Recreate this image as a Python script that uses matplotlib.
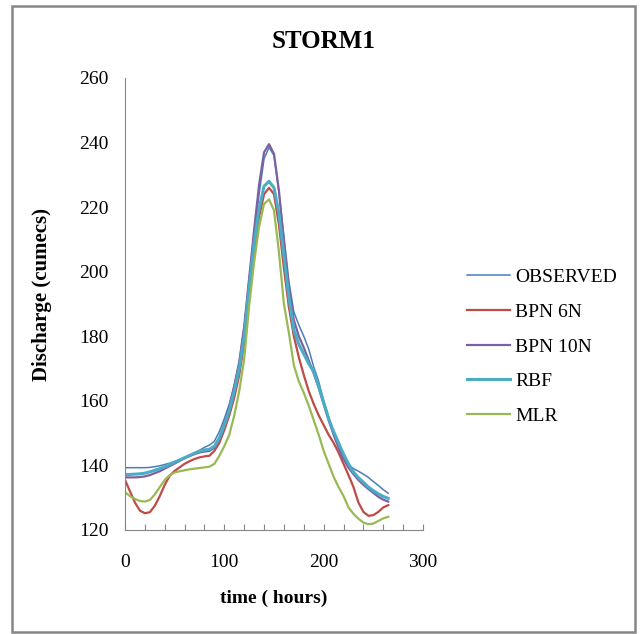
import numpy as np
import matplotlib.pyplot as plt
from matplotlib.patches import Rectangle

plt.rcParams['font.family'] = ['Liberation Serif', 'DejaVu Serif']

# time (hours), every 5 h
time_h = list(range(0, 266, 5))

observed = [139.3, 139.3, 139.3, 139.3, 139.3, 139.4, 139.6, 139.9, 140.3, 140.7,
            141.2, 141.7, 142.3, 143.0, 143.8, 144.7, 145.6, 146.3, 147.5, 150.5,
            154.5, 159.0, 165.0, 172.0, 183.0, 198.0, 211.0, 224.0, 235.0, 238.5,
            236.0, 224.5, 211.0, 197.0, 187.5, 183.5, 180.0, 176.0, 170.5, 166.0,
            160.0, 155.0, 150.0, 146.0, 142.8, 140.3, 139.0, 138.2, 137.3, 136.3,
            135.0, 133.8, 132.5, 131.4]
bpn6 = [135.5, 132.0, 128.5, 126.0, 125.2, 125.5, 127.5, 130.5, 134.0, 136.8,
        138.3, 139.4, 140.5, 141.3, 142.0, 142.5, 142.8, 143.0, 144.5, 147.0,
        151.0, 155.5, 161.0, 168.0, 178.0, 192.0, 206.0, 217.0, 224.0, 226.0,
        224.0, 214.5, 201.0, 189.0, 180.0, 173.5, 168.0, 163.0, 159.0, 155.5,
        152.5, 149.5, 147.0, 144.0, 140.5, 137.0, 133.3, 128.5, 125.6, 124.4,
        124.6, 125.6, 127.0, 127.7]
bpn10 = [136.3, 136.3, 136.3, 136.4, 136.6, 137.0, 137.6, 138.2, 139.0, 139.8,
         140.6, 141.4, 142.2, 142.9, 143.5, 144.0, 144.3, 144.5, 145.5, 148.5,
         153.0, 158.0, 164.5, 172.0, 183.0, 198.0, 213.0, 227.0, 237.0, 239.5,
         236.5, 225.0, 209.0, 195.0, 185.0, 180.0, 176.5, 172.5, 168.5, 164.0,
         159.0, 154.0, 149.5, 145.5, 142.0, 139.3, 137.3, 135.5, 134.0, 132.7,
         131.5, 130.3, 129.4, 128.8]
rbf = [137.2, 137.2, 137.3, 137.4, 137.6, 138.0, 138.5, 139.0, 139.6, 140.3,
       141.0, 141.7, 142.4, 143.1, 143.8, 144.4, 144.8, 145.0, 146.0, 148.5,
       152.5, 157.0, 163.0, 170.0, 180.0, 195.0, 209.0, 219.5, 226.5, 228.0,
       226.0, 218.0, 205.0, 192.0, 182.0, 177.5, 174.5, 171.5, 169.0, 164.5,
       159.5, 154.5, 150.5, 147.0, 143.5, 140.5, 138.0, 136.2, 134.8, 133.3,
       132.2, 131.2, 130.4, 129.8]
mlr = [131.7, 130.5, 129.6, 129.0, 128.8, 129.3, 131.0, 133.3, 135.5, 137.0,
       137.8, 138.2, 138.5, 138.8, 139.0, 139.2, 139.4, 139.6, 140.5, 143.0,
       146.0, 149.5, 155.5, 163.0, 173.0, 189.5, 203.0, 214.0, 221.0, 222.4,
       219.0, 206.0, 190.0, 181.0, 171.0, 166.0, 162.5, 158.5, 154.0, 149.5,
       144.5, 140.5, 136.5, 133.3, 130.5, 127.0, 125.0, 123.5, 122.3, 121.8,
       122.0, 122.8, 123.6, 124.1]

fig = plt.figure(figsize=(6.41, 6.34), dpi=100)
ax = fig.add_axes([125 / 641, 104 / 634, 298 / 641, 452 / 634])

ax.plot(time_h, observed, color='#4a7ebb', lw=1.1, label='OBSERVED')
ax.plot(time_h, bpn6, color='#be4b48', lw=1.6, label='BPN 6N')
ax.plot(time_h, bpn10, color='#7d60a0', lw=1.6, label='BPN 10N')
ax.plot(time_h, rbf, color='#4bacc6', lw=2.2, label='RBF')
ax.plot(time_h, mlr, color='#98b954', lw=1.6, label='MLR')

ax.set_xlim(0, 300)
ax.set_ylim(120, 260)
ax.set_xticks(range(0, 301, 20))
ax.set_xticklabels([str(v) if v % 100 == 0 else '' for v in range(0, 301, 20)])
ax.set_yticks(range(120, 261, 20))
ax.tick_params(axis='x', direction='in', length=4, color='#868686', pad=17, labelsize=14)
ax.tick_params(axis='y', length=0, pad=12, labelsize=14)
for s in ['top', 'right']:
    ax.spines[s].set_visible(False)
for s in ['left', 'bottom']:
    ax.spines[s].set_color('#868686')

ax.set_xlabel('time ( hours)', fontsize=14, fontweight='bold', labelpad=14)
ax.set_ylabel('Discharge (cumecs)', fontsize=15, fontweight='bold')
ax.yaxis.set_label_coords(-0.245, 0.52)
fig.text(0.504, 0.935, 'STORM1', ha='center', va='center', fontsize=18, fontweight='bold')

ax.legend(loc='upper left', bbox_to_anchor=(450 / 641, 1 - 251 / 634),
          bbox_transform=fig.transFigure, frameon=False, fontsize=14,
          handlelength=2.2, handletextpad=0.25, labelspacing=0.88)

fig.patches.append(Rectangle((12 / 641, 2 / 634), 623 / 641, 626 / 634,
                             transform=fig.transFigure, fill=False,
                             edgecolor='#868686', lw=1.8))

fig.savefig('out.png', dpi=100)
